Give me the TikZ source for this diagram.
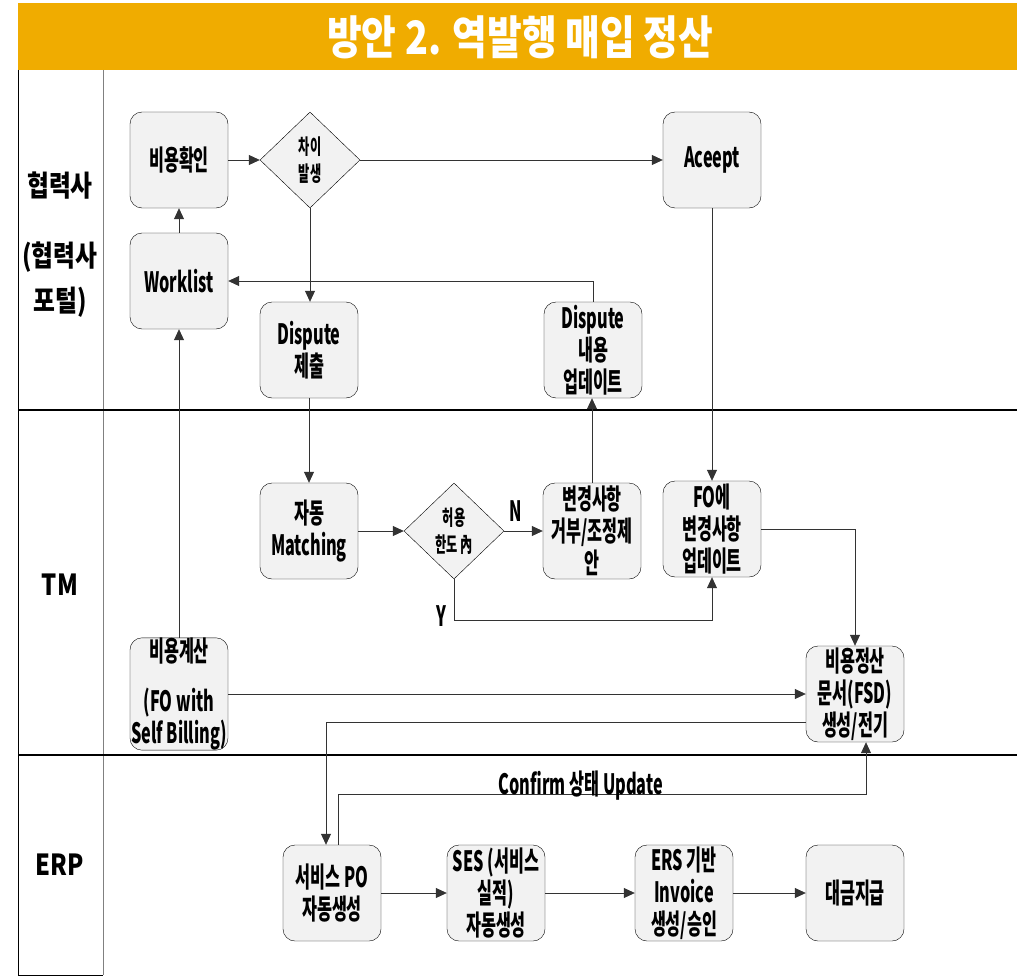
\documentclass[tikz,border=0pt]{standalone}
\usepackage{fontspec}
\setmainfont{Noto Sans CJK KR}
\newfontfamily\boxfont{Noto Sans CJK KR}[FakeStretch=0.58]
\newfontfamily\lanefont{Noto Sans CJK KR}[FakeStretch=0.82]
\newfontfamily\titlefont{Noto Sans CJK KR}[FakeStretch=0.82]
\usepackage{tikz}
\usetikzlibrary{shapes.geometric, arrows.meta, positioning}
\definecolor{titleorange}{RGB}{240,172,0}
\definecolor{boxgray}{RGB}{242,242,242}
\tikzset{
  proc/.style={draw, rounded corners=12pt, fill=boxgray, minimum width=98pt, minimum height=96pt,
    inner sep=0pt, align=center, font=\boxfont\bfseries\fontsize{28}{32}\selectfont},
  decide/.style={draw, diamond, fill=boxgray, minimum width=100pt, minimum height=96pt,
    inner sep=0pt, align=center, font=\boxfont\bfseries\fontsize{21}{27}\selectfont},
  flow/.style={-{Triangle[length=11pt,width=10pt]}, draw=black!80, line width=0.8pt},
  lane/.style={font=\lanefont\bfseries\fontsize{29}{45}\selectfont, align=center},
  lbl/.style={font=\boxfont\bfseries\fontsize{28}{30}\selectfont}
}

\begin{document}
\begin{tikzpicture}[x=1pt, y=-1pt]
    \useasboundingbox (0,0) rectangle (1017,979);

    % Title bar
    \fill[titleorange] (18,3) rectangle (1017,70);
    \node[font=\titlefont\bfseries\fontsize{46}{50}\selectfont, text=white] (title) at (520,37) {방안 2. 역발행 매입 정산};

    % Swimlanes
    \draw[line width=1pt] (18,70) -- (18,975) -- (103,975);
    \draw[gray, line width=0.8pt] (103,70) -- (103,975);
    \draw[line width=1.6pt] (18,410) -- (1017,410);
    \draw[line width=1.6pt] (18,755) -- (1017,755);

    \node[lane] (lanep) at (60,245) {협력사\\[25pt](협력사\\포털)};
    \node[lane] (lanetm) at (60,585) {TM};
    \node[lane] (laneerp) at (60,865) {ERP};

    % Partner portal
    \node[proc] (cost) at (179,160) {비용확인};
    \node[decide] (diff) at (310,160) {차이\\발생};
    \node[proc] (accept) at (712,160) {Aceept};
    \node[proc] (wl) at (179,281) {Worklist};
    \node[proc] (dsub) at (309,350) {Dispute\\제출};
    \node[proc] (dupd) at (593,350) {Dispute\\내용\\업데이트};

    % TM
    \node[proc] (match) at (309,531) {자동\\Matching};
    \node[decide] (tol) at (454,531) {허용\\한도 內};
    \node[proc] (chg) at (592,531) {변경사항\\거부/조정제\\안};
    \node[proc] (foupd) at (712,529) {FO에\\변경사항\\업데이트};
    \node[proc] (calc) at (179,694) {비용계산\\[18pt](FO with\\Self Billing)};
    \node[proc] (fsd) at (855,694) {비용정산\\문서(FSD)\\생성/전기};

    % ERP
    \node[proc] (po) at (332,893) {서비스 PO\\자동생성};
    \node[proc] (ses) at (496,893) {SES (서비스\\실적)\\자동생성};
    \node[proc] (ers) at (684,893) {ERS 기반\\Invoice\\생성/승인};
    \node[proc] (pay) at (855,893) {대금지급};

    % Connectors
    \draw[flow] (cost) -- (diff);
    \draw[flow] (diff) -- (accept);
    \draw[flow] (diff.south) -- (diff.south |- dsub.north);
    \draw[flow] (wl) -- (cost);
    \draw[flow] (dupd.north) |- (wl.east);
    \draw[flow] (dsub.south) -- (dsub.south |- match.north);
    \draw[flow] (match) -- (tol);
    \draw[flow] (tol) -- (chg) node[lbl, pos=0.3, above=6pt] (nlbl) {N};
    \draw[flow] (tol.south) -- ++(0,41) coordinate (ybend) -| (foupd.south);
    \node[lbl, left=4pt] (ylbl) at ([yshift=4pt]ybend) {Y};
    \draw[flow] (chg.north) -- (chg.north |- dupd.south);
    \draw[flow] (accept) -- (foupd);
    \draw[flow] (foupd.east) -| (fsd.north);
    \draw[flow] (calc.north) -- (wl.south);
    \draw[flow] (calc) -- (fsd);
    \draw[flow] ([yshift=-28pt]fsd.west) -| ([xshift=-6pt]po.north);
    \draw[flow] ([xshift=6pt]po.north) -- ++(0,-50) -| ([xshift=11pt]fsd.south)
        node[lbl, pos=0.23, yshift=9pt] (conf) {Confirm 상태 Update};
    \draw[flow] (po) -- (ses);
    \draw[flow] (ses) -- (ers);
    \draw[flow] (ers) -- (pay);
\end{tikzpicture}
\end{document}
